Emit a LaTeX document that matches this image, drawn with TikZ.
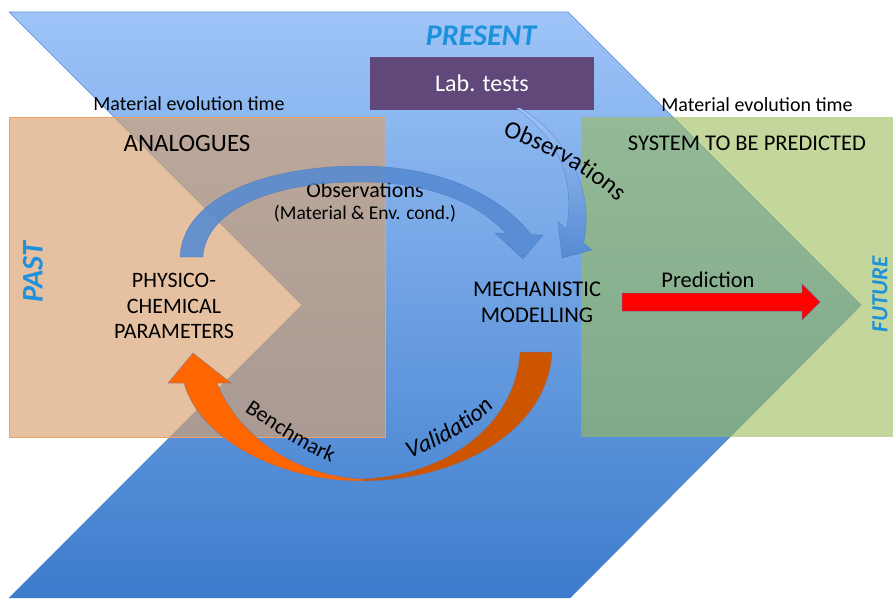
\documentclass[tikz,border=0pt]{standalone}
\usepackage{fontspec}
\setmainfont{Carlito}
\usetikzlibrary{decorations.text}
\definecolor{chevtop}{RGB}{158,196,248}
\definecolor{chevbot}{RGB}{60,124,204}
\definecolor{chevline}{RGB}{90,140,205}
\definecolor{peach}{RGB}{215,160,110}
\definecolor{peachline}{RGB}{240,160,100}
\definecolor{olive}{RGB}{155,187,89}
\definecolor{labpurple}{RGB}{96,73,122}
\definecolor{timeblue}{RGB}{30,145,220}
\definecolor{arrowblue}{RGB}{85,138,210}
\definecolor{arrowedge}{RGB}{70,115,185}
\definecolor{orangeA}{RGB}{255,102,0}
\definecolor{orangeB}{RGB}{205,85,0}
\definecolor{orangeedge}{RGB}{100,120,170}
\newcommand{\fsz}[1]{\fontsize{#1}{#1}\selectfont}
\tikzset{
  lbl/.style={inner sep=0pt, text=black},
  timelbl/.style={inner sep=0pt, text=timeblue, font=\fsz{30}\bfseries\itshape},
  labbox/.style={fill=labpurple, text=white, minimum width=224pt, minimum height=53pt, inner sep=0pt, font=\fsz{24}},
}
\begin{document}
\begin{tikzpicture}[x=1pt,y=-1pt]
\useasboundingbox (0,0) rectangle (893,598);
% chevron (present)
\shade[top color=chevtop, bottom color=chevbot] (9,12) -- (568,12) -- (861,305) -- (570,598) -- (9,598) -- (302,305) -- cycle;
\draw[chevline, line width=0.6pt] (9,12) -- (568,12) -- (861,305) -- (570,598);
\draw[chevline, line width=0.6pt] (9,12) -- (302,305) -- (9,598);
% past box
\fill[peach, fill opacity=0.65] (9,117) rectangle (385,437);
\draw[peachline, line width=0.8pt] (9,117) rectangle (385,437);
% future box
\fill[olive, fill opacity=0.6] (581,117) rectangle (893,437);
% lab tests
\node[labbox] (lab) at (482,83) {Lab. tests};
% time labels
\node[timelbl] (present) at (481,36) {PRESENT};
\node[timelbl, rotate=90] (past) at (33,272) {PAST};
\node[timelbl, rotate=90, font=\fsz{23}\bfseries\itshape] (future) at (880,294) {FUTURE};
% headers
\node[lbl, font=\fsz{20}] (mat1) at (189,104) {Material evolution time};
\node[lbl, font=\fsz{20}] (mat2) at (757,105) {Material evolution time};
\node[lbl, font=\fsz{25}] (analog) at (187,143) {ANALOGUES};
\node[lbl, font=\fsz{22.5}] (system) at (747,143) {SYSTEM TO BE PREDICTED};
% main texts
\node[lbl, font=\fsz{22}, align=center] (physico) at (174,306) {PHYSICO-\\[3.5pt]CHEMICAL\\[3.5pt]PARAMETERS};
\node[lbl, font=\fsz{22.5}, align=center] (mech) at (537,302) {MECHANISTIC\\[3.5pt]MODELLING};
\node[lbl, font=\fsz{22}] (obs) at (365,190) {Observations};
\node[lbl, font=\fsz{19.5}] (matenv) at (365,214) {(Material \& Env. cond.)};
\node[lbl, font=\fsz{22.5}] (pred) at (708,280) {Prediction};
% blue arrow 1 (analogues -> modelling)
\fill[arrowblue, fill opacity=0.88] (180,257) .. controls (182,200) and (260,166) .. (360,166) .. controls (440,166) and (500,195) .. (531,234.5)
  -- (543,235) -- (523,259) -- (495,233) -- (506,233.5)
  .. controls (478,203) and (430,182) .. (360,182) .. controls (262,182) and (205,215) .. (203,257) -- cycle;
\draw[arrowedge, line width=0.4pt, opacity=0.6] (180,257) .. controls (182,200) and (260,166) .. (360,166) .. controls (440,166) and (500,195) .. (531,234.5)
  -- (543,235) -- (523,259) -- (495,233) -- (506,233.5)
  .. controls (478,203) and (430,182) .. (360,182) .. controls (262,182) and (205,215) .. (203,257) -- cycle;
% blue arrow 2 (lab tests -> modelling)
\shade[top color=chevtop, bottom color=arrowblue] (520,108) .. controls (570,138) and (595,195) .. (583.5,243)
  -- (592,250) -- (562,258) -- (558,222) -- (566.5,229)
  .. controls (575,180) and (560,140) .. (516,108) -- cycle;
\draw[arrowedge, line width=0.4pt, opacity=0.6] (520,108) .. controls (570,138) and (595,195) .. (583.5,243)
  -- (592,250) -- (562,258) -- (558,222) -- (566.5,229)
  .. controls (575,180) and (560,140) .. (516,108) -- cycle;
% orange arrow (modelling -> parameters)
\fill[orangeA] (552,352) .. controls (548,430) and (460,481) .. (360,481) .. controls (280,481) and (200,440) .. (184,383)
  -- (168,383) -- (193,353) -- (231,383) -- (217,383)
  .. controls (240,440) and (300,476) .. (362,479) .. controls (440,476) and (515,430) .. (520,352) -- cycle;
\begin{scope}
\clip (362,300) rectangle (600,500);
\fill[orangeB] (552,352) .. controls (548,430) and (460,481) .. (360,481) .. controls (280,481) and (200,440) .. (184,383)
  -- (168,383) -- (193,353) -- (231,383) -- (217,383)
  .. controls (240,440) and (300,476) .. (362,479) .. controls (440,476) and (515,430) .. (520,352) -- cycle;
\end{scope}
\draw[orangeedge, line width=0.5pt, opacity=0.7] (552,352) .. controls (548,430) and (460,481) .. (360,481) .. controls (280,481) and (200,440) .. (184,383)
  -- (168,383) -- (193,353) -- (231,383) -- (217,383)
  .. controls (240,440) and (300,476) .. (362,479) .. controls (440,476) and (515,430) .. (520,352) -- cycle;
% red prediction arrow
\fill[red] (622,293) -- (802,293) -- (802,284) -- (820,302) -- (802,320) -- (802,311) -- (622,311) -- cycle;
\draw[arrowedge, line width=0.5pt, opacity=0.7] (622,293) -- (802,293) -- (802,284) -- (820,302) -- (802,320) -- (802,311) -- (622,311) -- cycle;
% curved labels
\coordinate (oa) at (490,131);
\coordinate (ob) at (627,211);
\path[decorate, decoration={text along path, text align=center, text={|\fsz{25}|Observations}}]
  (oa) .. controls (540,148) and (594,175) .. (ob);
\coordinate (ba) at (241,409);
\coordinate (bb) at (335,464);
\path[decorate, decoration={text along path, text align=center, text={|\fsz{22}|Benchmark}}]
  (ba) .. controls (270,428) and (300,450) .. (bb);
\coordinate (va) at (398,462);
\coordinate (vb) at (502,398);
\path[decorate, decoration={text along path, text align=center, text={|\fsz{24}\itshape|Validation}}]
  (va) .. controls (440,448) and (477,428) .. (vb);
\end{tikzpicture}
\end{document}
